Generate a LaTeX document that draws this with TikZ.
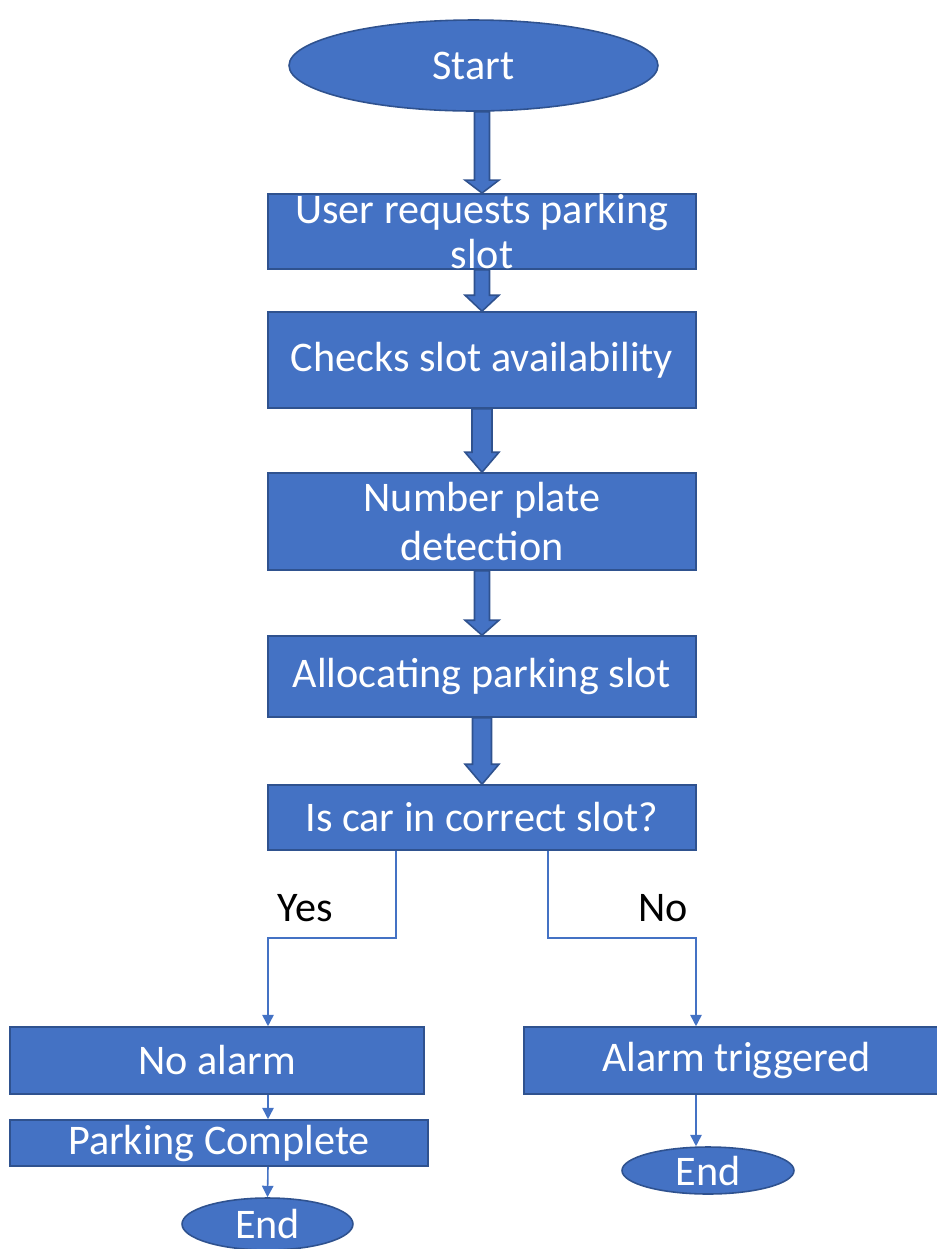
\documentclass[tikz,border=0pt]{standalone}
\usepackage{fontspec}
\setmainfont{Carlito}
\usepackage{tikz}
\usetikzlibrary{arrows.meta,shapes.geometric,calc,backgrounds}
\definecolor{boxblue}{HTML}{4472C4}
\definecolor{boxedge}{HTML}{2F528F}
\tikzset{
  x=0.02cm, y=-0.02cm,
  stepbox/.style={rectangle, draw=boxedge, line width=0.9pt, fill=boxblue, text=white, inner sep=0pt, align=center, font=\fontsize{24}{26}\selectfont},
  terminal/.style={ellipse, draw=boxedge, line width=0.9pt, fill=boxblue, text=white, inner sep=0pt, font=\fontsize{24}{26}\selectfont},
  blockarrow/.style={draw=boxedge, line width=0.9pt, fill=boxblue, line join=miter},
  thinline/.style={draw=boxblue, line width=0.9pt},
  >/.tip={Triangle[width=6.5pt,length=6.5pt]}
}
% block arrow: from, to, half shaft width, head length
\newcommand{\blockarrow}[4]{%
  \draw[blockarrow] ($(#2.north |- #1.south)+(-#3,0)$) -- ($(#2.north)+(-#3,-#4)$) -- ($(#2.north)+(-17,-#4)$) -- (#2.north) -- ($(#2.north)+(17,-#4)$) -- ($(#2.north)+(#3,-#4)$) -- ($(#2.north |- #1.south)+(#3,0)$) -- cycle;}

\begin{document}
\begin{tikzpicture}
\useasboundingbox (0,0) rectangle (937,1249);

\node[terminal, minimum width=7.38cm, minimum height=1.82cm] (start) at (473.5,65.5) {Start};

\node[stepbox, minimum width=8.56cm, minimum height=1.5cm] (request) at (482,231.5) {User requests parking\\slot};
\node[stepbox, minimum width=8.56cm, minimum height=1.92cm] (check) at (482,360) {Checks slot availability};
\node[stepbox, minimum width=8.56cm, minimum height=1.94cm] (plate) at (482,521.5) {Number plate\\[2pt]detection};
\node[stepbox, minimum width=8.56cm, minimum height=1.62cm] (allocate) at (482,676.5) {Allocating parking slot};
\node[stepbox, minimum width=8.56cm, minimum height=1.3cm] (query) at (482,817.5) {Is car in correct slot?};

\node[stepbox, minimum width=8.28cm, minimum height=1.34cm] (noalarm) at (217,1060.5) {No alarm};
\node[stepbox, minimum width=8.36cm, minimum height=0.92cm] (complete) at (219,1143) {Parking Complete};
\node[terminal, minimum width=3.42cm, minimum height=1.04cm] (end1) at (267.5,1224) {End};

\node[stepbox, minimum width=8.5cm, minimum height=1.34cm] (alarm) at (736.5,1060.5) {Alarm triggered};
\node[terminal, minimum width=3.44cm, minimum height=0.94cm] (end2) at (708,1170.5) {End};

\node[font=\fontsize{24}{26}\selectfont] (yes) at (305,908) {Yes};
\node[font=\fontsize{24}{26}\selectfont] (no) at (663,908) {No};

\coordinate (yes-x) at (396,938);
\coordinate (yes-drop) at (268,938);
\coordinate (no-x) at (548,938);
\coordinate (no-drop) at (696,938);

\begin{scope}[on background layer]
\blockarrow{start}{request}{7.5}{13}
\blockarrow{request}{check}{7.5}{16}
\blockarrow{check}{plate}{10}{20}
\blockarrow{plate}{allocate}{7.5}{15}
\blockarrow{allocate}{query}{9.5}{20}
\end{scope}

\draw[thinline,->] (query.south -| yes-x) -- (yes-x) -- (yes-drop) -- (noalarm.north -| yes-drop);
\draw[thinline,->] (query.south -| no-x) -- (no-x) -- (no-drop) -- (alarm.north -| no-drop);
\draw[thinline,->] (noalarm.south -| yes-drop) -- (complete.north -| yes-drop);
\draw[thinline,->] (complete.south -| yes-drop) -- (end1.north);
\draw[thinline,->] (alarm.south -| no-drop) -- (end2.north -| no-drop);
\end{tikzpicture}
\end{document}
